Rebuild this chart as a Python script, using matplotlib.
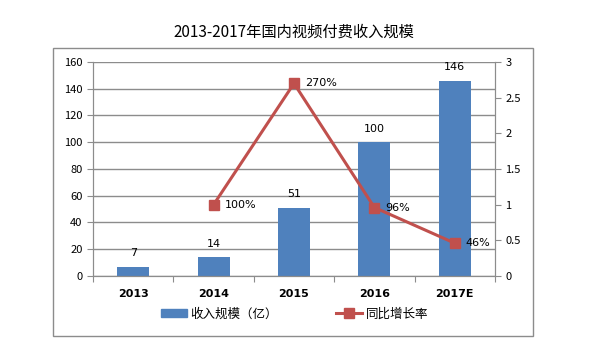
import matplotlib.pyplot as plt
from matplotlib.patches import Rectangle
from matplotlib.lines import Line2D
from matplotlib.patches import Patch

plt.rcParams['font.family'] = ['Noto Sans CJK SC', 'DejaVu Sans']

years = ['2013', '2014', '2015', '2016', '2017E']
revenue = [7, 14, 51, 100, 146]
growth_years = ['2014', '2015', '2016', '2017E']
growth = [1.00, 2.70, 0.96, 0.46]
growth_labels = ['100%', '270%', '96%', '46%']

bar_color = '#4F81BD'
line_color = '#C0504D'
grid_color = '#8C8C8C'

fig = plt.figure(figsize=(6.03, 3.63), dpi=100)

# outer chart border
fig.patches.append(Rectangle((0.088, 0.074), 0.796, 0.793, transform=fig.transFigure,
                             fill=False, edgecolor='#8C8C8C', linewidth=1))

ax = fig.add_axes([0.1542, 0.2397, 0.6667, 0.5895])
x = range(len(years))
ax.bar(x, revenue, width=0.4, color=bar_color, zorder=2)
ax.set_xlim(-0.5, len(years) - 0.5)
ax.set_ylim(0, 160)
ax.set_yticks(range(0, 161, 20))
ax.yaxis.grid(True, color=grid_color, linewidth=1)
ax.set_axisbelow(True)

for xi, v in zip(x, revenue):
    ax.annotate(str(v), (xi, v), xytext=(0, 6), textcoords='offset points',
                ha='center', va='bottom', fontsize=8, family='DejaVu Sans')

# category boundary ticks on the x axis
ax.set_xticks([i - 0.5 for i in range(len(years) + 1)])
ax.set_xticklabels([])
ax.tick_params(axis='x', length=4, color=grid_color)
for xi, lab in zip(x, years):
    ax.text(xi, -0.06, lab, transform=ax.get_xaxis_transform(), ha='center', va='top',
            fontsize=8, fontweight='bold', family='DejaVu Sans')

ax.tick_params(axis='y', length=4, color=grid_color, labelsize=8)
ax.spines['top'].set_visible(False)
for s in ['left', 'bottom', 'right']:
    ax.spines[s].set_color(grid_color)

ax2 = ax.twinx()
gx = [years.index(y) for y in growth_years]
ax2.plot(gx, growth, color=line_color, linewidth=2.2, marker='s', markersize=7, zorder=3)
for xi, v, lab in zip(gx, growth, growth_labels):
    ax2.annotate(lab, (xi, v), xytext=(8, 0), textcoords='offset points',
                 ha='left', va='center', fontsize=8, family='DejaVu Sans')
ax2.set_ylim(0, 3)
ax2.set_yticks([0, 0.5, 1, 1.5, 2, 2.5, 3])
ax2.set_yticklabels(['0', '0.5', '1', '1.5', '2', '2.5', '3'])
ax2.tick_params(axis='y', length=4, color=grid_color, labelsize=8)
ax2.spines['top'].set_visible(False)
for s in ['left', 'bottom', 'right']:
    ax2.spines[s].set_color(grid_color)

fig.text(0.487, 0.912, '2013-2017年国内视频付费收入规模', ha='center', va='center', fontsize=11)

handles = [Patch(color=bar_color),
           Line2D([], [], color=line_color, linewidth=2.2, marker='s', markersize=7)]
fig.legend(handles, ['收入规模（亿）', '同比增长率'], loc='center', bbox_to_anchor=(0.488, 0.135),
           ncol=2, frameon=False, fontsize=9, columnspacing=4.6, handlelength=2.1,
           handletextpad=0.3)

fig.savefig('out.png', dpi=100)
